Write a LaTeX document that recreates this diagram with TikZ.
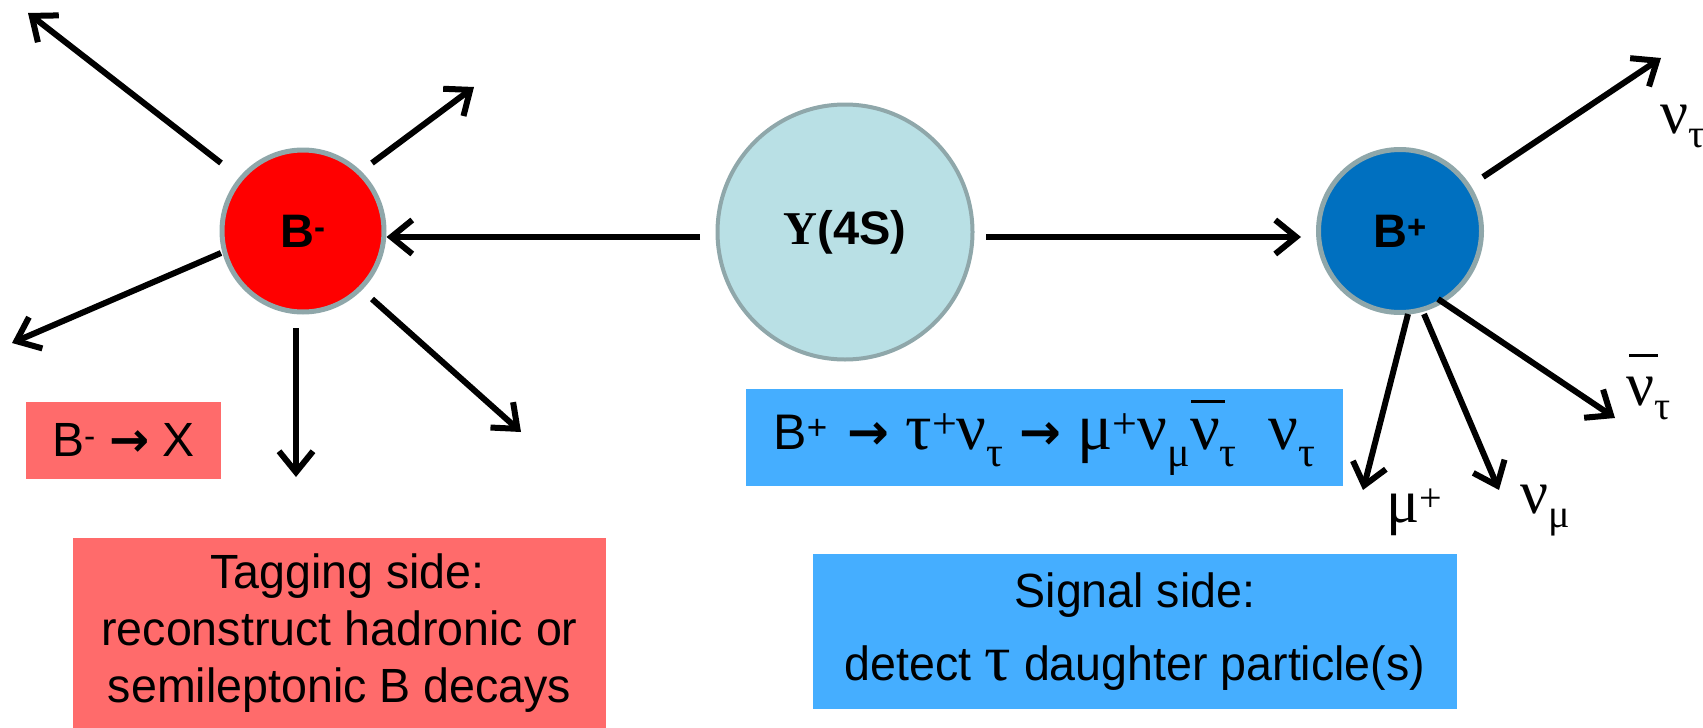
\documentclass[tikz,border=0pt]{standalone}
\usepackage{fontspec}
\setmainfont{Liberation Sans}
\newfontfamily\grk{Liberation Serif}
\newfontfamily\arrf{DejaVu Sans}
\usetikzlibrary{arrows.meta}
\definecolor{bord}{HTML}{8FA7AA}
\definecolor{yfill}{HTML}{B9E0E5}
\definecolor{bpfill}{HTML}{0070C0}
\definecolor{redbox}{HTML}{FF6B6B}
\definecolor{bluebox}{HTML}{45AEFF}
\newcommand{\rar}{{\arrf\bfseries →}}
% formula pieces
\newcommand{\fg}[1]{{\grk\fontsize{66}{66}\selectfont #1}}
\newcommand{\fsb}[1]{\raisebox{-17pt}{\grk\fontsize{42}{42}\selectfont #1}}
\newcommand{\fsp}[1]{\raisebox{11pt}{\grk\fontsize{44}{44}\selectfont #1}}
\newcommand{\fnubar}{\rlap{\hspace{1pt}\rule[46pt]{34pt}{3pt}}\fg{ν}}
% label pieces
\newcommand{\lsb}[1]{\raisebox{-14pt}{\fontsize{40}{40}\selectfont #1}}
\newcommand{\lsp}[1]{\raisebox{11pt}{\fontsize{40}{40}\selectfont #1}}
\begin{document}
\begin{tikzpicture}[x=1pt,y=-1pt,
  ball/.style={circle, draw=bord, line width=5pt, inner sep=0pt,
    font=\fontsize{47}{47}\selectfont\bfseries},
  arr/.style={line width=6pt, -{Straight Barb[length=21pt,width=34pt]}},
  boxr/.style={fill=redbox, inner sep=0pt},
  boxb/.style={fill=bluebox, inner sep=0pt},
  lbl/.style={inner sep=0pt, anchor=base west, font=\grk\fontsize{62}{62}\selectfont}]
\useasboundingbox (0,0) rectangle (1703,728);

% circles
\node[ball, fill=red, minimum size=162pt] (bm) at (303,231) {B\textsuperscript{-}};
\node[ball, fill=yfill, line width=4pt, minimum size=255pt] (ups) at (845,232)
  {{\grk Υ}(4S)};
\node[ball, fill=bpfill, minimum size=163pt] (bp) at (1400,231) {B\textsuperscript{+}};

% boxes
\node[boxr, minimum width=195pt, minimum height=77pt,
  font=\fontsize{48}{48}\selectfont] (bx) at (123.5,440) {B\textsuperscript{-} \rar{} X};
\node[boxr, minimum width=533pt, minimum height=190pt, align=center,
  font=\addfontfeature{FakeStretch=0.97}\fontsize{48}{57}\selectfont] (tag) at (339.5,633)
  {\hspace{16pt}Tagging side:\\reconstruct hadronic or\\semileptonic B decays\hspace{14pt}};
\node[boxb, minimum width=597pt, minimum height=97pt,
  font=\fontsize{50}{50}\selectfont] (form) at (1044.5,437.5)
  {B\textsuperscript{+}\hspace{20pt}\rar\hspace{16pt}\fg{τ}\fsp{+}\fg{ν}\fsb{τ}\hspace{16pt}\rar\hspace{16pt}\fg{μ}\fsp{+}\fg{ν}\fsb{μ}\fnubar\fsb{τ}\hspace{32pt}\fg{ν}\fsb{τ}};
\node[boxb, minimum width=644pt, minimum height=155pt, align=center,
  font=\addfontfeature{FakeStretch=0.97}\fontsize{48}{73}\selectfont] (sig) at (1135,631.5)
  {Signal side:\\detect {\grk\fontsize{66}{66}\selectfont τ} daughter particle(s)};

% free ends of B- decay products
\coordinate (m1s) at (221,163); \coordinate (m1e) at (28,13);
\coordinate (m2s) at (372,163); \coordinate (m2e) at (474,87);
\coordinate (m3s) at (221,253); \coordinate (m3e) at (12,343);
\coordinate (m4s) at (296,328); \coordinate (m4e) at (296,477);
\coordinate (m5s) at (372,299); \coordinate (m5e) at (521,432);
\draw[arr] (m1s) -- (m1e);
\draw[arr] (m2s) -- (m2e);
\draw[arr] (m3s) -- (m3e);
\draw[arr] (m4s) -- (m4e);
\draw[arr] (m5s) -- (m5e);

% Y(4S) to the two B mesons
\coordinate (ya) at (700,237);
\coordinate (yb) at (986,237);
\coordinate (bpt) at (1301,237);
\draw[arr] (ya) -- (ya -| bm.east);
\draw[arr] (yb) -- (bpt);

% B+ decay products
\coordinate (p1s) at (1483,177); \coordinate (p1e) at (1661,58);
\coordinate (p2s) at (1438,299); \coordinate (p2e) at (1615,418);
\coordinate (p3s) at (1408,314); \coordinate (p3e) at (1363,490);
\coordinate (p4s) at (1424,314); \coordinate (p4e) at (1499,490);
\draw[arr] (p1s) -- (p1e);
\draw[arr] (p2s) -- (p2e);
\draw[arr] (p3s) -- (p3e);
\draw[arr] (p4s) -- (p4e);

% labels
\node[lbl] (lnt) at (1660,133) {ν\lsb{τ}};
\node[lbl] (lnb) at (1626,405) {\rlap{\hspace{3pt}\rule[48pt]{29pt}{3pt}}ν\lsb{τ}};
\node[lbl] (lmu) at (1386,522) {μ\lsp{+}};
\node[lbl] (lnm) at (1520,513) {ν\lsb{μ}};
\end{tikzpicture}
\end{document}
